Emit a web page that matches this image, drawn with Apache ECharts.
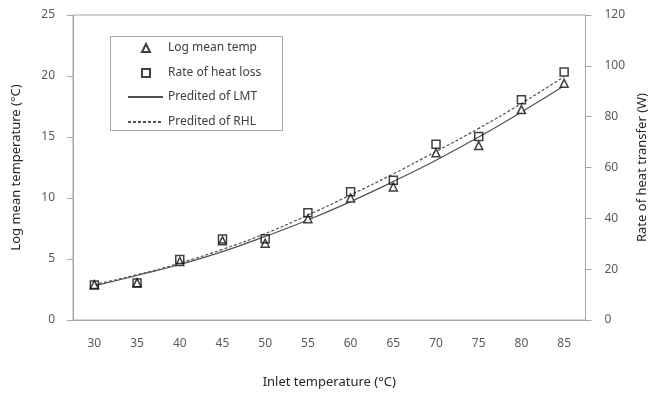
<!DOCTYPE html>
<html>
<head>
<meta charset="utf-8">
<script src="https://cdn.jsdelivr.net/npm/echarts@6/dist/echarts.min.js"></script>
<style>
  html, body { margin: 0; padding: 0; background: #fff; }
  #chart { width: 657px; height: 394px; }
</style>
</head>
<body>
<div id="chart"></div>
<script>
// inlet temperatures (x categories)
const inletTemp = ['30', '35', '40', '45', '50', '55', '60', '65', '70', '75', '80', '85']

// measured values
const logMeanTemp = [2.9, 3.05, 4.8, 6.5, 6.3, 8.3, 10.0, 10.9, 13.7, 14.3, 17.25, 19.4]
const heatLossRate = [13.8, 14.6, 23.8, 31.9, 32.0, 42.2, 50.5, 55.0, 69.1, 72.2, 86.7, 97.6]

// fitted curves
const predLMT = [2.8, 3.65, 4.55, 5.6, 6.85, 8.2, 9.7, 11.35, 13.1, 15.0, 17.05, 19.2]
const predRHL = [14.0, 17.8, 22.4, 27.8, 34.0, 41.3, 49.2, 57.5, 66.3, 75.4, 85.2, 95.8]

const font = 'Noto Sans'
const tickColor = '#595959'
const axisGray = '#a6a6a6'
const legendText = {fontFamily: font, fontSize: 12, color: '#404040'}

const chart = echarts.init(document.getElementById('chart'), null, {renderer: 'canvas'})

const option = {
  animation: false,
  backgroundColor: '#fff',
  textStyle: {fontFamily: font},
  grid: {
    left: 73, right: 70, top: 15, bottom: 67,
    show: true, borderColor: axisGray, borderWidth: 1
  },
  // legend frame
  graphic: [{
    type: 'rect',
    left: 110, top: 36,
    shape: {width: 172, height: 94},
    style: {fill: '#fff', stroke: '#a6a6a6', lineWidth: 1},
    z: 50
  }],
  legend: [
    {
      orient: 'vertical',
      left: 141, top: 42,
      padding: 0,
      itemWidth: 8, itemHeight: 8, itemGap: 13,
      textStyle: Object.assign({padding: [0, 0, 0, 13]}, legendText),
      data: ['Log mean temp', 'Rate of heat loss'],
      z: 60
    },
    {
      orient: 'vertical',
      left: 127, top: 91,
      padding: 0,
      itemWidth: 35, itemHeight: 10, itemGap: 13,
      itemStyle: {opacity: 0},
      textStyle: legendText,
      data: ['Predited of LMT', 'Predited of RHL'],
      z: 60
    }
  ],
  xAxis: {
    type: 'category',
    data: inletTemp,
    boundaryGap: true,
    name: 'Inlet temperature (°C)',
    nameLocation: 'middle',
    nameGap: 56,
    nameTextStyle: {fontFamily: font, fontSize: 13, color: '#262626'},
    axisLine: {lineStyle: {color: axisGray}},
    axisTick: {alignWithLabel: true, length: 5, lineStyle: {color: axisGray}},
    axisLabel: {margin: 18, fontSize: 12, color: tickColor, fontFamily: font},
    splitLine: {show: false}
  },
  yAxis: [
    {
      type: 'value',
      min: 0, max: 25, interval: 5,
      name: 'Log mean temperature (°C)',
      nameLocation: 'middle',
      nameGap: 50,
      nameTextStyle: {fontFamily: font, fontSize: 13, color: '#262626'},
      axisLine: {show: true, lineStyle: {color: axisGray}},
      axisTick: {show: true, length: 6, lineStyle: {color: axisGray}},
      axisLabel: {margin: 18, fontSize: 12, color: tickColor, fontFamily: font},
      splitLine: {show: false}
    },
    {
      type: 'value',
      min: 0, max: 120, interval: 20,
      name: 'Rate of heat transfer (W)',
      nameLocation: 'middle',
      nameGap: 50,
      nameTextStyle: {fontFamily: font, fontSize: 13, color: '#262626'},
      axisLine: {show: true, lineStyle: {color: axisGray}},
      axisTick: {show: true, length: 6, lineStyle: {color: axisGray}},
      axisLabel: {margin: 19, fontSize: 12, color: tickColor, fontFamily: font},
      splitLine: {show: false}
    }
  ],
  series: [
    {
      name: 'Predited of LMT',
      type: 'line',
      yAxisIndex: 0,
      data: predLMT,
      smooth: true,
      symbol: 'none',
      lineStyle: {color: '#505050', width: 1.2},
      itemStyle: {color: '#505050'},
      z: 2
    },
    {
      name: 'Predited of RHL',
      type: 'line',
      yAxisIndex: 1,
      data: predRHL,
      smooth: true,
      symbol: 'none',
      lineStyle: {color: '#505050', width: 1.2, type: [3, 2]},
      itemStyle: {color: '#505050'},
      z: 2
    },
    {
      name: 'Log mean temp',
      type: 'scatter',
      yAxisIndex: 0,
      data: logMeanTemp,
      symbol: 'triangle',
      symbolSize: 8,
      itemStyle: {color: '#fff', borderColor: '#111', borderWidth: 1.5},
      z: 3
    },
    {
      name: 'Rate of heat loss',
      type: 'scatter',
      yAxisIndex: 1,
      data: heatLossRate,
      symbol: 'rect',
      symbolSize: 8,
      itemStyle: {color: 'rgba(255,255,255,0)', borderColor: '#111', borderWidth: 1.5},
      z: 4
    }
  ]
}

chart.setOption(option)
</script>
</body>
</html>
